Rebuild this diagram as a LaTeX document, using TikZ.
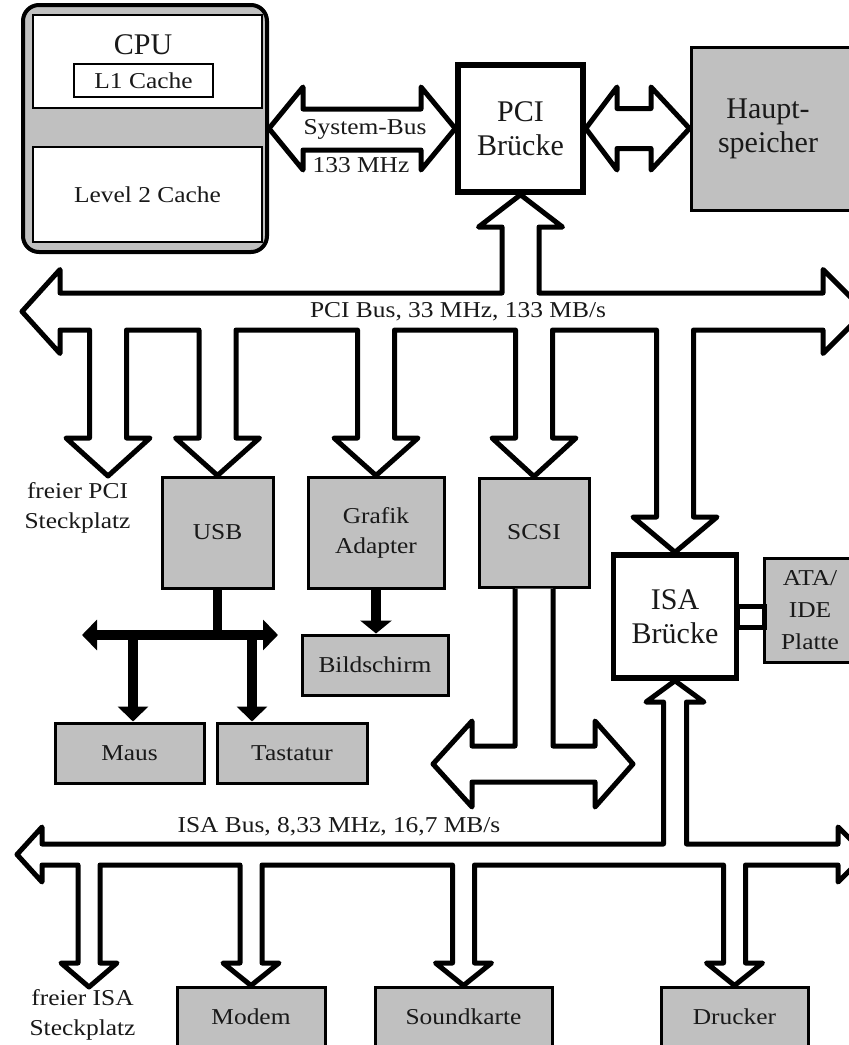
\documentclass[tikz,border=0pt]{standalone}
\usepackage{fontspec}
\setmainfont{Liberation Serif}[FakeStretch=1.12]
\newfontfamily\titleserif{Liberation Serif}
\usetikzlibrary{arrows.meta,calc}
\definecolor{boxgray}{RGB}{192,192,192}
\definecolor{ink}{RGB}{25,25,25}

\begin{document}
\begin{tikzpicture}[x=1pt,y=-1pt,
  lbl/.style={font=\fontsize{22.7}{30}\selectfont, text=ink, align=center},
  biglbl/.style={font=\titleserif\fontsize{30}{34}\selectfont, text=ink, align=center},
  unit/.style={lbl, draw, line width=3pt, fill=boxgray, inner sep=0pt},
  bridge/.style={biglbl, draw, line width=5.5pt, fill=white, inner sep=0pt},
  cache/.style={lbl, draw, line width=2pt, fill=white, inner sep=0pt},
  bus/.style={draw, line width=5pt, fill=white, line join=round},
  wire/.style={line width=10pt, -{Triangle[width=30pt,length=15pt]}},
  wirepair/.style={line width=10pt, {Triangle[width=30pt,length=15pt]}-{Triangle[width=30pt,length=15pt]}},
]
\useasboundingbox (0,0) rectangle (849,1045);
\clip (0,0) rectangle (849,1045);

% ---------- processor ----------
\node[draw, line width=4pt, fill=boxgray, rounded corners=16pt,
      minimum width=244pt, minimum height=247pt] (cpu) at (145,128.5) {};
\node[cache, minimum width=229pt, minimum height=93pt] (cputop) at (147.5,61.5) {};
\node[biglbl] (cputitle) at (143,45) {CPU};
\node[cache, line width=1.5pt, minimum width=139pt, minimum height=33pt] (l1) at (143.5,80.5) {L1 Cache};
\node[cache, minimum width=229pt, minimum height=95pt] (l2) at (147.5,194.5) {Level 2 Cache};

% ---------- bridges and memory ----------
\node[bridge, minimum width=125pt, minimum height=127pt] (pci) at (520.5,128.5) {PCI\\Br\"ucke};
\node[unit, minimum width=169pt, minimum height=163pt,
      label={[biglbl, xshift=-7.5pt]center:{Haupt-\\speicher}}] (ram) at (775.5,128.5) {};
\node[bridge, minimum width=123pt, minimum height=123pt] (isab) at (675,616.5) {ISA\\Br\"ucke};
\node[unit, minimum width=106pt, minimum height=104pt,
      label={[lbl, font=\fontsize{22.7}{32}\selectfont, xshift=-7pt]center:{ATA/\\IDE\\Platte}}] (ata) at (817,610) {};

% ---------- PCI devices ----------
\node[unit, minimum width=111pt, minimum height=111pt] (usb) at (217.5,532.5) {USB};
\node[unit, minimum width=136pt, minimum height=111pt] (gfx) at (376,532.5) {Grafik\\Adapter};
\node[unit, minimum width=110pt, minimum height=109pt] (scsi) at (534,532.5) {SCSI};
\node[unit, minimum width=146pt, minimum height=60pt] (bild) at (375,665) {Bildschirm};
\node[unit, minimum width=149pt, minimum height=60pt] (maus) at (129.5,753) {Maus};
\node[unit, minimum width=150pt, minimum height=60pt] (tast) at (292,753) {Tastatur};

% ---------- ISA devices ----------
\node[unit, minimum width=148pt, minimum height=60pt] (modem) at (251,1017) {Modem};
\node[unit, minimum width=177pt, minimum height=60pt] (sound) at (463.5,1017) {Soundkarte};
\node[unit, minimum width=147pt, minimum height=60pt] (druck) at (734.5,1017) {Drucker};

\coordinate (pcislot) at (108,476);
\coordinate (isaslot) at (89,987);

% ---------- system bus and memory link ----------
\draw[bus] (cpu.east) -- (303,87) -- (303,109) -- (421,109) -- (421,87) -- (pci.west)
  -- (421,170) -- (421,150) -- (303,150) -- (303,170) -- cycle;
\draw[bus] (pci.east) -- (617,87) -- (617,108.5) -- (651,108.5) -- (651,87) -- (ram.west)
  -- (651,170) -- (651,148.5) -- (617,148.5) -- (617,170) -- cycle;

% ---------- PCI bus ----------
\draw[bus] (22,311.5) -- (60,269.5) -- (60,293) -- (502,293) -- (502,227) -- (478.5,227)
  -- (pci.south) -- (562.5,227) -- (539,227) -- (539,293) -- (823,293) -- (823,269.5)
  -- (865,311.5) -- (823,353.5) -- (823,330)
  -- (693.5,330) -- (693.5,517) -- (717,517) -- (isab.north) -- (633,517) -- (656.5,517) -- (656.5,330)
  -- (552.5,330) -- (552.5,438) -- (576,438) -- (scsi.north) -- (492,438) -- (515.5,438) -- (515.5,330)
  -- (394.5,330) -- (394.5,438) -- (418,438) -- (gfx.north) -- (334,438) -- (357.5,438) -- (357.5,330)
  -- (236,330) -- (236,438) -- (259.5,438) -- (usb.north) -- (175.5,438) -- (199,438) -- (199,330)
  -- (126.5,330) -- (126.5,438) -- (150,438) -- (pcislot) -- (66,438) -- (89.5,438) -- (89.5,330)
  -- (60,330) -- (60,353.5) -- cycle;

% ---------- SCSI bus ----------
\draw[bus] ([xshift=-19pt]scsi.south) -- (515,746) -- (472,746) -- (472,721) -- (433,764)
  -- (472,807) -- (472,782) -- (595,782) -- (595,807) -- (633,764) -- (595,721)
  -- (595,746) -- (553,746) -- ([xshift=19pt]scsi.south);

% ---------- ISA bus ----------
\draw[bus] (17,854.5) -- (42,827) -- (42,844) -- (663.5,844) -- (663.5,702) -- (646,702)
  -- (isab.south) -- (704,702) -- (686.5,702) -- (686.5,844) -- (838,844) -- (838,827)
  -- (866,854.5) -- (838,882) -- (838,865)
  -- (745.5,865) -- (745.5,963) -- (762.5,963) -- (druck.north) -- (706.5,963) -- (723.5,963) -- (723.5,865)
  -- (474.5,865) -- (474.5,963) -- (491.5,963) -- (sound.north) -- (435.5,963) -- (452.5,963) -- (452.5,865)
  -- (262,865) -- (262,963) -- (279,963) -- (modem.north) -- (223,963) -- (240,963) -- (240,865)
  -- (100,865) -- (100,963) -- (117,963) -- (isaslot) -- (61,963) -- (78,963) -- (78,865)
  -- (42,865) -- (42,882) -- cycle;

% ---------- IDE link ----------
\node[draw, line width=5pt, fill=white, minimum width=27pt, minimum height=21pt, inner sep=0pt]
  (idelink) at (750.5,616.5) {};

% ---------- USB tree and display ----------
\coordinate (usbhub) at (217.5,635);
\coordinate (usbleft) at (82,635);
\coordinate (usbright) at (278,635);
\coordinate (mausdrop) at (133,635);
\coordinate (tastdrop) at (252,635);
\draw[line width=9pt] (usb.south) -- (usbhub);
\draw[wirepair] (usbleft) -- (usbright);
\draw[wire] (mausdrop) -- (mausdrop |- maus.north);
\draw[wire] (tastdrop) -- (tastdrop |- tast.north);
\draw[wire, -{Triangle[width=31pt,length=13pt]}] (gfx.south) -- (gfx.south |- bild.north);

% ---------- labels ----------
\node[lbl] (sysbus) at (365,129) {System-Bus};
\node[lbl] (sysclk) at (361,165) {133 MHz};
\node[lbl] (pcibus) at (458,312) {PCI Bus, 33 MHz, 133 MB/s};
\node[lbl] (isabus) at (339,827) {ISA Bus, 8,33 MHz, 16,7 MB/s};
\node[lbl] (pcifree) at (77.5,508) {freier PCI\\Steckplatz};
\node[lbl] (isafree) at (82.5,1015) {freier ISA\\Steckplatz};
\end{tikzpicture}
\end{document}
